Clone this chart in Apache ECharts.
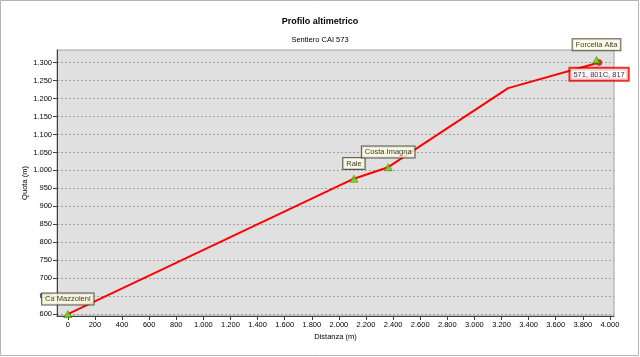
<!DOCTYPE html>
<html>
<head>
<meta charset="utf-8">
<script src="https://cdn.jsdelivr.net/npm/echarts@6/dist/echarts.min.js"></script>
<style>html,body{margin:0;padding:0;background:#fff}#c{width:640px;height:357px}</style>
</head>
<body>
<div id="c"></div>
<script>
// Track profile (distance m, altitude m)
const trackDist = [0, 2111, 2364, 3249, 3920];
const trackAlt = [600, 977, 1009, 1229, 1300];
// Waypoints
const wpNames = ['Ca Mazzoleni', 'Rale', 'Costa Imagna', 'Forcella Alta'];
const wpDist = [0, 2111, 2364, 3901];
const wpAlt = [600, 977, 1009, 1307];
// End point label
const endName = ['571, 801C, 817'];
const endDist = [3920];
const endAlt = [1300];
// Ticks
const xTicks = [0, 200, 400, 600, 800, 1000, 1200, 1400, 1600, 1800, 2000, 2200, 2400, 2600, 2800, 3000, 3200, 3400, 3600, 3800, 4000];
const yTicks = [600, 650, 700, 750, 800, 850, 900, 950, 1000, 1050, 1100, 1150, 1200, 1250, 1300];

const FONT = 'Liberation Sans, Arial, sans-serif';
const fmt = v => String(v).replace(/\B(?=(\d{3})+(?!\d))/g, '.');

const chart = echarts.init(document.getElementById('c'));
chart.setOption({
  animation: false,
  backgroundColor: '#ffffff',
  textStyle: { fontFamily: FONT },
  title: {
    text: 'Profilo altimetrico',
    subtext: 'Sentiero CAI 573',
    left: 'center',
    top: 16,
    padding: 0,
    itemGap: 7,
    textStyle: { fontFamily: FONT, fontSize: 9, fontWeight: 'bold', color: '#000', lineHeight: 11 },
    subtextStyle: { fontFamily: FONT, fontSize: 7.5, color: '#000', lineHeight: 11 }
  },
  graphic: [{
    type: 'rect', shape: { x: 0.5, y: 0.5, width: 638, height: 355 },
    style: { fill: null, stroke: '#b4b4b4', lineWidth: 1 }, silent: true
  }],
  grid: {
    left: 57, top: 50, right: 26, bottom: 41,
    show: true, backgroundColor: '#e0e0e0', borderColor: '#a0a0a0', borderWidth: 1
  },
  xAxis: {
    type: 'value', min: -80, max: 4030,
    name: 'Distanza (m)', nameLocation: 'middle', nameGap: 17, nameMoveOverlap: false,
    nameTextStyle: { fontFamily: FONT, fontSize: 7.5, color: '#000' },
    axisLine: { show: true, onZero: false, lineStyle: { color: '#404040', width: 1 } },
    axisTick: { show: true, length: 4, lineStyle: { color: '#404040' }, customValues: xTicks },
    axisLabel: { fontFamily: FONT, fontSize: 7.5, color: '#000', margin: 5, customValues: xTicks, formatter: fmt },
    splitLine: { show: false }
  },
  yAxis: {
    type: 'value', min: 595, max: 1335,
    name: 'Quota (m)', nameLocation: 'middle', nameGap: 28, nameRotate: 90, nameMoveOverlap: false,
    nameTextStyle: { fontFamily: FONT, fontSize: 7.5, color: '#000' },
    axisLine: { show: true, onZero: false, lineStyle: { color: '#404040', width: 1 } },
    axisTick: { show: true, length: 4, lineStyle: { color: '#404040' }, customValues: yTicks },
    axisLabel: { fontFamily: FONT, fontSize: 7.5, color: '#000', margin: 5, customValues: yTicks, formatter: fmt },
    splitLine: { show: true, lineStyle: { color: '#a0a0a0', type: [2, 2], width: 1 } }
  },
  series: [
    {
      type: 'line',
      data: trackDist.map((d, i) => [d, trackAlt[i]]),
      showSymbol: false,
      lineStyle: { color: '#ff0000', width: 2 },
      z: 2
    },
    {
      type: 'scatter',
      data: endDist.map((d, i) => ({ value: [d, endAlt[i]], name: endName[i] })),
      symbol: 'circle', symbolSize: 6,
      itemStyle: { color: '#ff0000', borderColor: '#a00000', borderWidth: 0.5 },
      label: {
        show: true, position: 'bottom', distance: 3,
        formatter: p => p.name,
        fontFamily: FONT, fontSize: 7.5, color: '#000',
        backgroundColor: '#ffffff', borderColor: '#e00000', borderWidth: 2,
        padding: [2, 3, 1, 3]
      },
      z: 3
    },
    {
      type: 'scatter',
      data: wpDist.map((d, i) => ({ value: [d, wpAlt[i]], name: wpNames[i] })),
      symbol: 'triangle', symbolSize: [8, 7],
      itemStyle: { color: '#66dd00', borderColor: '#2a5a00', borderWidth: 0.6 },
      label: {
        show: true, position: 'top', distance: 6,
        formatter: p => p.name,
        fontFamily: FONT, fontSize: 7.5, color: '#000',
        backgroundColor: '#ffffe1', borderColor: '#333333', borderWidth: 1,
        padding: [2, 3, 1, 3]
      },
      z: 4
    }
  ]
});
</script>
</body>
</html>
